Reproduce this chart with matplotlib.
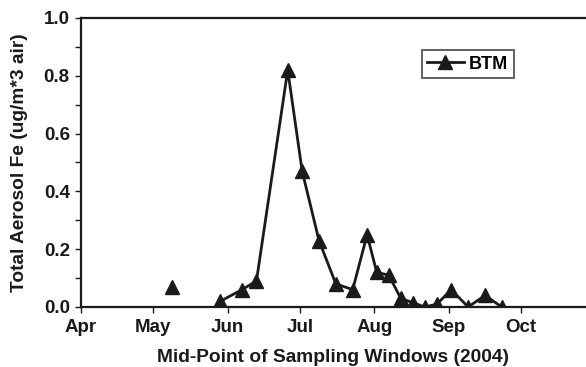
import numpy as np
import matplotlib.dates as mdates
from datetime import datetime
from matplotlib import pyplot as plt
from matplotlib.ticker import MultipleLocator

plt.rcParams["font.family"] = ["Liberation Sans", "DejaVu Sans"]
plt.rcParams["font.weight"] = "bold"

# Mid-point of each sampling window (2004) and total aerosol Fe
dates = ["2004-05-09", None, "2004-05-29", "2004-06-07", "2004-06-13",
         "2004-06-26", "2004-07-02", "2004-07-09", "2004-07-16",
         "2004-07-23", "2004-07-29", "2004-08-02", "2004-08-07",
         "2004-08-12", "2004-08-17", "2004-08-22", "2004-08-27",
         "2004-09-02", "2004-09-09", "2004-09-16", "2004-09-23"]
btm = [0.07, np.nan, 0.02, 0.06, 0.09, 0.82, 0.47, 0.23, 0.08, 0.06,
       0.25, 0.12, 0.11, 0.03, 0.015, 0.0, 0.01, 0.06, 0.0, 0.04, 0.0]

x = [datetime.strptime(d, "%Y-%m-%d") if d else datetime(2004, 5, 20)
     for d in dates]

fig = plt.figure(figsize=(5.86, 3.67), dpi=100)
ax = fig.add_axes([0.138, 0.1635, 0.862, 0.7875])

ax.plot(x, btm, c="#1a1a1a", lw=2, marker="^", ms=10, label="BTM")

ax.set_xlim(datetime(2004, 4, 1), datetime(2004, 10, 28))
ax.set_ylim(0, 1.0)
ax.xaxis.set_major_locator(mdates.MonthLocator())
ax.xaxis.set_major_formatter(mdates.DateFormatter("%b"))
ax.yaxis.set_major_locator(MultipleLocator(0.2))
ax.yaxis.set_minor_locator(MultipleLocator(0.1))
ax.yaxis.set_major_formatter(lambda v, p: f"{v:.1f}")

for side in ["left", "bottom", "top"]:
    ax.spines[side].set_linewidth(1.6)
    ax.spines[side].set_color("#1a1a1a")
ax.spines["right"].set_visible(False)

ax.tick_params(axis="both", which="both", direction="out", length=4,
               width=1, colors="#1a1a1a", labelsize=13.5, pad=4)
ax.tick_params(axis="x", pad=5)
for lbl in ax.get_xticklabels() + ax.get_yticklabels():
    lbl.set_fontweight("bold")

ax.set_xlabel("Mid-Point of Sampling Windows (2004)", fontsize=13.8,
              fontweight="bold", color="#1a1a1a", labelpad=9)
ax.set_ylabel("Total Aerosol Fe (ug/m*3 air)", fontsize=13.8,
              fontweight="bold", color="#1a1a1a", labelpad=11)

leg = ax.legend(loc="center", bbox_to_anchor=(0.766, 0.84), fancybox=False,
                edgecolor="#1a1a1a", handlelength=2.0, handletextpad=0.3,
                borderpad=0.3, prop={"weight": "bold", "size": 13})
leg.get_frame().set_linewidth(1.2)

fig.savefig("out.png", dpi=100)
